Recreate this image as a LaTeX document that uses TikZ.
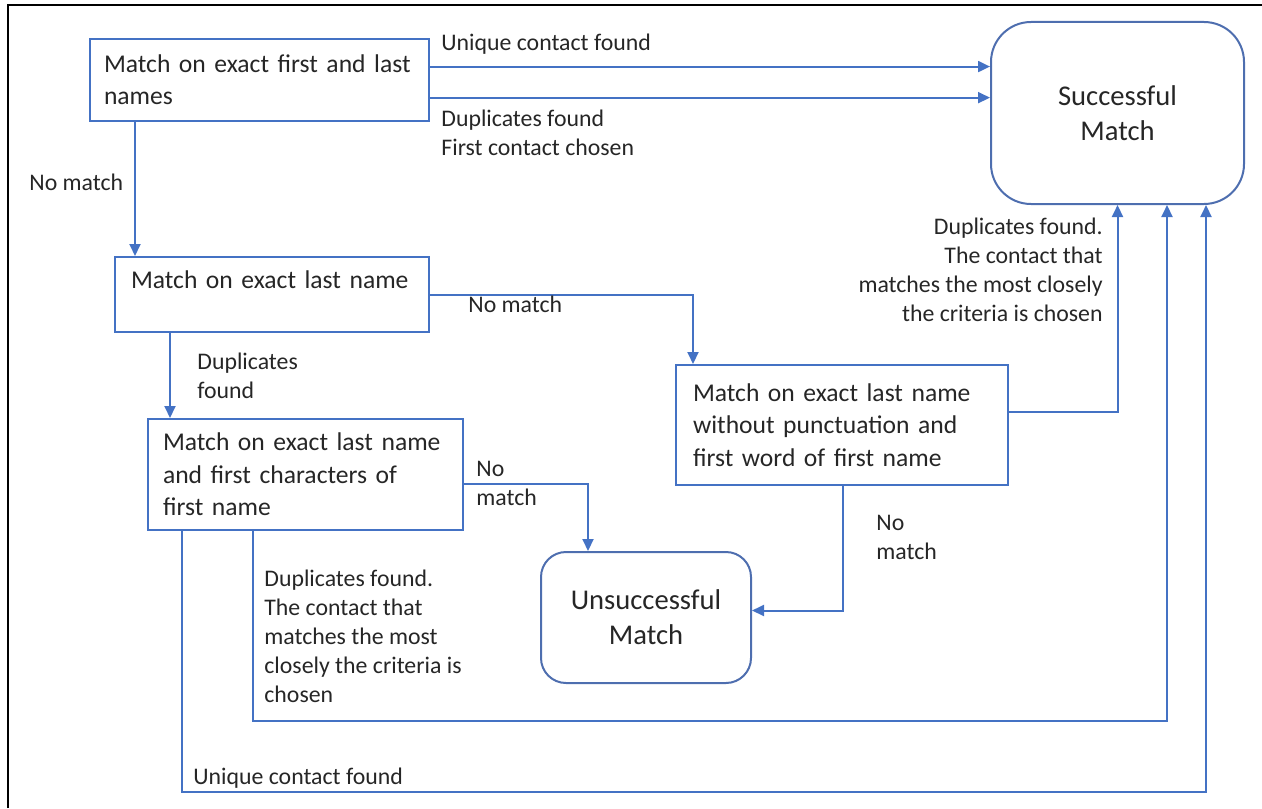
\documentclass[tikz,border=0pt]{standalone}
\usepackage{fontspec}
\setmainfont{Carlito}
\usetikzlibrary{arrows.meta,positioning,calc}
\definecolor{flowblue}{RGB}{68,114,196}
\definecolor{endblue}{RGB}{78,110,175}
\definecolor{txtgray}{RGB}{38,38,38}

\begin{document}
\begin{tikzpicture}[x=.5pt,y=-.5pt,
  stepbox/.style={draw=flowblue,line width=1pt,anchor=north west,inner sep=0pt,align=left,text=txtgray,font=\fontsize{12.8}{16.2}\selectfont},
  endbox/.style={draw=endblue,line width=1pt,anchor=north west,align=center,text=txtgray,font=\fontsize{14.3}{17.5}\selectfont},
  lbl/.style={anchor=north west,inner sep=0pt,align=left,text=txtgray,font=\fontsize{11.9}{14.5}\selectfont},
  arr/.style={draw=flowblue,line width=1pt,-{Triangle[length=6pt,width=5.5pt]}}]
\useasboundingbox (0,0) rectangle (1262,808);
\draw[line width=1pt] (8,808) -- (8,5) -- (1262,5);
% boxes
\node[stepbox,minimum width=169.5pt,minimum height=41pt,text width=155.5pt] (first) at (89,38) {Match on exact first and last\\names};
\node[stepbox,minimum width=157pt,minimum height=37.5pt,text width=141pt,text depth=15pt] (last) at (114,256) {Match on exact last name};
\node[stepbox,minimum width=157.5pt,minimum height=55.5pt,text width=142.5pt] (char) at (147,418) {Match on exact last name\\and first characters of\\first name};
\node[stepbox,minimum width=166pt,minimum height=60pt,text width=149pt] (punct) at (675,364) {Match on exact last name\\without punctuation and\\first word of first name};
\node[endbox,minimum width=126.5pt,minimum height=91pt,rounded corners=20pt] (succ) at (990,21) {Successful\\Match};
\node[endbox,minimum width=105pt,minimum height=65.5pt,rounded corners=12.5pt] (unsucc) at (540,551) {Unsuccessful\\Match};
% connectors
\path ($(first.north east)!.34!(first.south east)$) coordinate (f1)
      ($(first.north east)!.71!(first.south east)$) coordinate (f2)
      ($(first.south west)+(46,0)$) coordinate (f3)
      ($(last.south west)+(56,0)$) coordinate (l1)
      ($(char.south west)+(106,0)$) coordinate (c1)
      ($(char.south west)+(35,0)$) coordinate (c2)
      ($(punct.south west)+(168,0)$) coordinate (p1)
      ($(succ.south)+(49.5,0)$) coordinate (s1)
      ($(succ.south)+(88.5,0)$) coordinate (s2);
\draw[arr] (f1) -- (f1 -| succ.west);
\draw[arr] (f2) -- (f2 -| succ.west);
\draw[arr] (f3) -- (f3 |- last.north);
\draw[arr] (last.east) -| ($(punct.north west)+(18,0)$);
\draw[arr] (l1) -- (l1 |- char.north);
\draw[arr] ($(char.east)+(0,9.5)$) -| ($(unsucc.north west)+(48,0)$);
\draw[arr] (p1) |- ($(unsucc.east)+(0,-7)$);
\draw[arr] ($(punct.east)+(0,-13)$) -| (succ.south);
\draw[arr] (c1) -- ++(0,190) -| (s1);
\draw[arr] (c2) -- ++(0,261) -| (s2);
% labels
\node[lbl] (lu) at (441,34) {Unique contact found};
\node[lbl] (ld) at (441,110) {Duplicates found\\First contact chosen};
\node[lbl] (ln1) at (29,174) {No match};
\node[lbl] (ln2) at (468,296) {No match};
\node[lbl] (ldup) at (197,353) {Duplicates\\found};
\node[lbl] (ln3) at (476,461) {No\\match};
\node[lbl] (ln4) at (876,515) {No\\match};
\node[lbl,anchor=north east,align=right] (lclose) at (1103,218) {Duplicates found.\\The contact that\\matches the most closely\\the criteria is chosen};
\node[lbl] (lclose2) at (264,570) {Duplicates found.\\The contact that\\matches the most\\closely the criteria is\\chosen};
\node[lbl] (lu2) at (193,768) {Unique contact found};
\end{tikzpicture}
\end{document}
